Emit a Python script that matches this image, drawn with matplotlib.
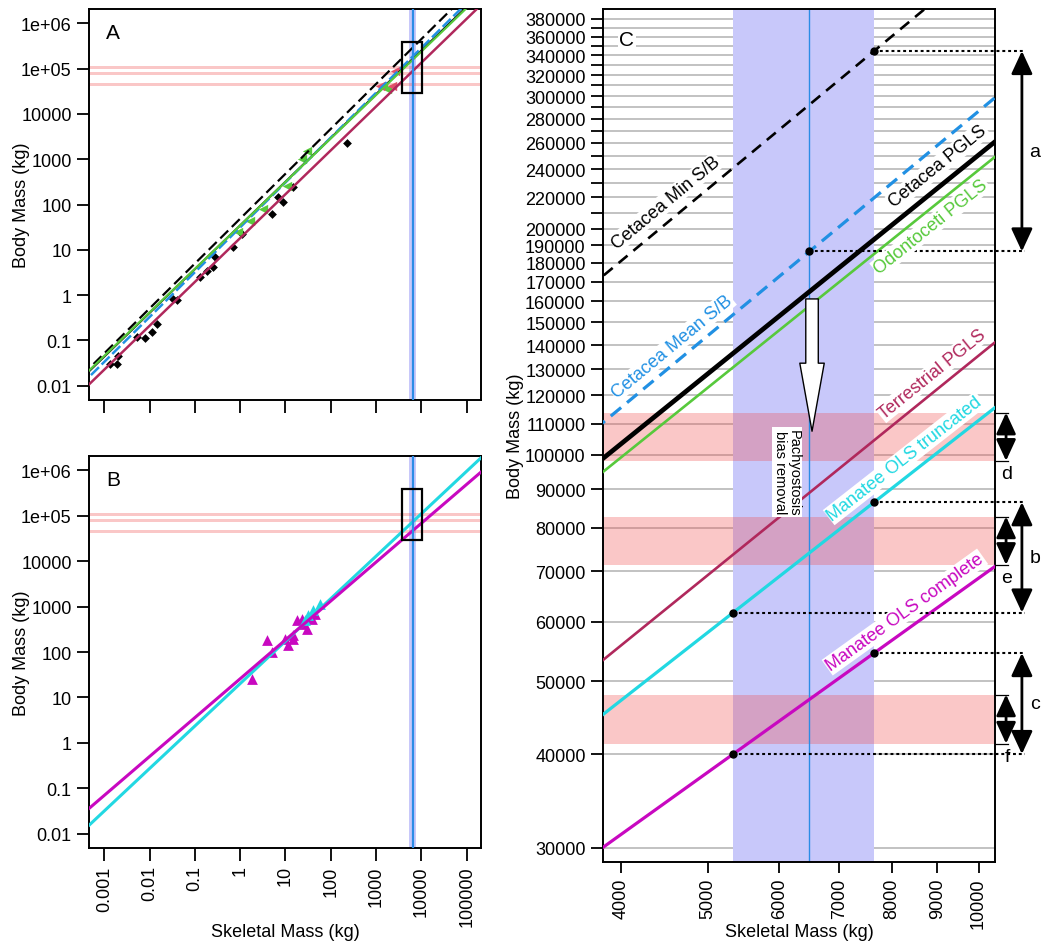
import numpy as np
import matplotlib
matplotlib.use("Agg")
import matplotlib.pyplot as plt
from matplotlib.patches import Rectangle, FancyArrowPatch

plt.rcParams['font.family'] = ['Liberation Sans', 'DejaVu Sans']

# regression fits: body = 10**log_intercept * skeletal**slope
fit_names = ["Cetacea Min S/B", "Cetacea Mean S/B", "Cetacea PGLS", "Odontoceti PGLS",
             "Terrestrial PGLS", "Manatee OLS truncated", "Manatee OLS complete"]
fit_slopes = [0.991, 0.990, 0.965, 0.960, 0.968, 0.935, 0.856]
fit_log_intercepts = [1.6885, 1.4971, 1.5389, 1.5389, 1.260, 1.3058, 1.412]

# skeletal mass estimate of the fossil and its range
skel_est = 6480
skel_lo = 5330
skel_hi = 7650

# body mass ranges (pink bands)
band_lo = [98200, 71400, 41300]
band_hi = [113800, 82800, 48000]
band_letters = ["d", "e", "f"]

# panel A points
terr_skel = [0.00134, 0.00194, 0.00204, 0.0052, 0.0079, 0.0111, 0.01435, 0.0334, 0.0396, 0.130,
             0.182, 0.278, 0.255, 0.705, 1.08, 4.95, 6.93, 8.93, 14.9, 224]
terr_body = [0.030, 0.030, 0.046, 0.117, 0.111, 0.151, 0.230, 0.82, 0.78, 2.47,
             3.46, 6.8, 4.1, 11.4, 22.3, 61.7, 144, 112, 240, 2280]
odont_skel = [0.91, 1.64, 3.24, 10.6, 22.8, 29.4, 1440, 1710]
odont_body = [24.3, 44, 79.6, 260, 1010, 1540, 40600, 35500]
myst_skel = [1220, 2210, 2610]
myst_body = [40600, 42000, 90000]

# panel B points
mana_skel = [1.79, 3.85, 4.95, 9.75, 11.5, 14.9, 14.9, 17.7, 22.8, 24.7, 29.4, 37.8, 44.8]
mana_body = [26, 181, 100, 197, 140, 233, 197, 500, 545, 422, 327, 545, 700]
trunc_skel = [26.9, 31.9, 41.1, 57.8]
trunc_body = [500, 643, 830, 1165]

log_ticks = [0.001, 0.01, 0.1, 1, 10, 100, 1000, 10000, 100000]
log_tick_labels = ["0.001", "0.01", "0.1", "1", "10", "100", "1000", "10000", "100000"]
body_ticks = [0.01, 0.1, 1, 10, 100, 1000, 10000, 1e5, 1e6]
body_tick_labels = ["0.01", "0.1", "1", "10", "100", "1000", "10000", "1e+05", "1e+06"]
c_xticks = [4000, 5000, 6000, 7000, 8000, 9000, 10000]
c_yticks = list(range(30000, 390000, 10000))
c_ylabels_shown = list(range(30000, 210000, 10000)) + list(range(220000, 390000, 20000))

colors = {
    "Cetacea Min S/B": "black",
    "Cetacea Mean S/B": "#2190E3",
    "Cetacea PGLS": "black",
    "Odontoceti PGLS": "#57C93C",
    "Terrestrial PGLS": "#B0285C",
    "Manatee OLS truncated": "#22D8E2",
    "Manatee OLS complete": "#C808C0",
}
pink = (0.94, 0.30, 0.30, 0.31)
lavender = "#C8C8FA"
vblue = "#2B8CE6"


def fit(i, x):
    return 10 ** fit_log_intercepts[i] * np.asarray(x, dtype=float) ** fit_slopes[i]


W, H = 1052, 945
fig = plt.figure(figsize=(W / 100, H / 100), dpi=100)


def px_axes(l, t, r, b):
    return fig.add_axes([l / W, 1 - b / H, (r - l) / W, (b - t) / H])


axA = px_axes(89, 10, 481, 401)
axB = px_axes(89, 457, 481, 849)
axC = px_axes(603, 10, 995, 863)

big_xlim = (4.6e-4, 2.07e5)
big_ylim = (4.85e-3, 2.07e6)
c_xlim = (3817, 10430)
c_ylim = (28740, 391800)

for ax in (axA, axB, axC):
    ax.set_xscale("log")
    ax.set_yscale("log")
    for s in ax.spines.values():
        s.set_linewidth(1.4)
    ax.tick_params(which="both", direction="out", labelsize=13, width=1.3)
    ax.minorticks_off()

xs = np.logspace(-4, 6, 60)

# ---------- panels A and B ----------
for ax, letter in ((axA, "A"), (axB, "B")):
    ax.set_xlim(*big_xlim)
    ax.set_ylim(*big_ylim)
    ax.axvspan(skel_lo, skel_hi, color=lavender, lw=0, zorder=1)
    ax.axvline(skel_est, color=vblue, lw=1.6, zorder=6)
    for lo, hi in zip(band_lo, band_hi):
        ax.axhspan(lo, hi, color=pink, lw=0, zorder=1.5)
    ax.add_patch(Rectangle((c_xlim[0], c_ylim[0]), c_xlim[1] - c_xlim[0], c_ylim[1] - c_ylim[0],
                           fill=False, ec="black", lw=1.6, zorder=7))
    ax.set_xticks(log_ticks)
    ax.set_yticks(body_ticks)
    ax.set_yticklabels(body_tick_labels)
    ax.tick_params(axis="both", length=9)
    ax.minorticks_off()
    ax.set_ylabel("Body Mass (kg)", fontsize=13, va="center")
    ax.yaxis.set_label_coords(-0.171, 0.5)
    ax.text(0.043, 0.94, letter, transform=ax.transAxes, fontsize=15, va="center", ha="left")

axA.set_xticklabels([])
axA.scatter(terr_skel, terr_body, marker="D", s=20, color="black", zorder=2, lw=0)
axA.scatter(odont_skel, odont_body, marker="<", s=45, color=colors["Odontoceti PGLS"], zorder=2, lw=0)
axA.scatter(myst_skel, myst_body, marker="<", s=45, color="#E2506A", zorder=2, lw=0)
axA.plot(xs, fit(4, xs), color=colors["Terrestrial PGLS"], lw=1.8, zorder=3)
axA.plot(xs, fit(0, xs), color="black", lw=1.6, ls=(0, (5, 2.3)), zorder=3)
axA.plot(xs, fit(2, xs), color="black", lw=1.5, zorder=3)
axA.plot(xs, fit(1, xs), color=colors["Cetacea Mean S/B"], lw=1.8, ls=(0, (4.5, 1.5)), zorder=3)
axA.plot(xs, fit(3, xs), color=colors["Odontoceti PGLS"], lw=1.6, zorder=3)

axB.scatter(mana_skel, mana_body, marker="^", s=60, color=colors["Manatee OLS complete"], zorder=2, lw=0)
axB.scatter(trunc_skel, trunc_body, marker="^", s=60, color=colors["Manatee OLS truncated"], zorder=2, lw=0)
axB.plot(xs, fit(5, xs), color=colors["Manatee OLS truncated"], lw=2.2, zorder=3)
axB.plot(xs, fit(6, xs), color=colors["Manatee OLS complete"], lw=2.2, zorder=3)
axB.set_xticklabels(log_tick_labels, rotation=90)
axB.set_xlabel("Skeletal Mass (kg)", fontsize=13)
axB.xaxis.set_label_coords(0.5, -0.214)
axB.xaxis.label.set_va("center")

# ---------- panel C ----------
axC.set_xlim(*c_xlim)
axC.set_ylim(*c_ylim)
axC.set_xticks(c_xticks)
axC.set_xticklabels([str(v) for v in c_xticks], rotation=90)
axC.set_yticks(c_yticks)
axC.set_yticklabels([str(v) if v in c_ylabels_shown else "" for v in c_yticks])
axC.minorticks_off()
axC.tick_params(axis="y", length=9)
axC.tick_params(axis="x", length=8)
axC.grid(axis="y", color="#BDBDBD", lw=1.3)
axC.set_axisbelow(True)
axC.axvspan(skel_lo, skel_hi, color=lavender, lw=0, zorder=1)
for lo, hi in zip(band_lo, band_hi):
    axC.axhspan(lo, hi, color=pink, lw=0, zorder=1.5)
axC.axvline(skel_est, color=vblue, lw=1.0, zorder=2)

xc = np.logspace(3.5, 4.1, 40)
c_styles = [dict(lw=1.9, ls=(0, (4.4, 2.9))),
            dict(lw=2.3, ls=(0, (4.2, 2.4))),
            dict(lw=3.4, ls="-"),
            dict(lw=1.9, ls="-"),
            dict(lw=1.9, ls="-"),
            dict(lw=2.3, ls="-"),
            dict(lw=2.3, ls="-")]
for i, name in enumerate(fit_names):
    axC.plot(xc, fit(i, xc), color=colors[name], zorder=3, **c_styles[i])

# line labels: x of the foot point on the line, perpendicular offset (points)
label_x = [4611, 4667, 9260, 8650, 9103, 8485, 8471]
label_off = [12.0, 10.7, 12.2, -10.0, 11.0, 11.4, 11.1]
fig.canvas.draw()
for i, name in enumerate(fit_names):
    x0 = label_x[i]
    p1 = axC.transData.transform((x0, fit(i, x0)))
    p2 = axC.transData.transform((x0 * 1.1, fit(i, x0 * 1.1)))
    ang = np.arctan2(p2[1] - p1[1], p2[0] - p1[0])
    d = label_off[i]
    axC.annotate(name, (x0, fit(i, x0)), xytext=(-np.sin(ang) * d, np.cos(ang) * d),
                 textcoords="offset points", rotation=np.degrees(ang), rotation_mode="anchor",
                 ha="center", va="center", fontsize=13, color=colors[name], zorder=5,
                 bbox=dict(fc="white", ec="none", pad=0.8))

# dots and dotted guides
x_guide_end = 11260
dot_pts = [(skel_hi, fit(0, skel_hi)), (skel_est, fit(1, skel_est)),
           (skel_hi, fit(5, skel_hi)), (skel_lo, fit(5, skel_lo)),
           (skel_hi, fit(6, skel_hi)), (skel_lo, fit(6, skel_lo))]
for x0, y0 in dot_pts:
    axC.plot([x0, x_guide_end], [y0, y0], color="black", lw=1.5, ls=(0, (1.4, 1.4)),
             clip_on=False, zorder=4)
    axC.plot(x0, y0, "o", color="black", ms=5, zorder=6, clip_on=False)

# big double arrows a, b, c
pairs = [(dot_pts[0][1], dot_pts[1][1], "a"), (dot_pts[2][1], dot_pts[3][1], "b"),
         (dot_pts[4][1], dot_pts[5][1], "c")]
for y1, y2, lab in pairs:
    axC.annotate("", xy=(11175, y1), xytext=(11175, y2),
                 arrowprops=dict(arrowstyle="<|-|>,head_length=14,head_width=6.5", mutation_scale=1,
                                 color="black", lw=2.0, shrinkA=0, shrinkB=0),
                 annotation_clip=False)
    axC.text(11555, np.sqrt(y1 * y2), lab, fontsize=14, ha="center", va="center", clip_on=False)

# small double arrows d, e, f on the pink bands
for lo, hi, lab in zip(band_lo, band_hi, band_letters):
    for yv in (lo, hi):
        axC.plot([c_xlim[1], 10783], [yv, yv], color="black", lw=0.9, clip_on=False)
    axC.annotate("", xy=(10730, hi), xytext=(10730, lo),
                 arrowprops=dict(arrowstyle="<|-|>,head_length=13,head_width=6", mutation_scale=1,
                                 color="black", lw=2.0, shrinkA=0, shrinkB=0),
                 annotation_clip=False)
    axC.annotate(lab, (10755, lo), xytext=(0, -3), textcoords="offset points",
                 fontsize=14, ha="center", va="top", annotation_clip=False)

# pachyostosis arrow
arrow = FancyArrowPatch((6524, 162600), (6524, 106600),
                        arrowstyle="simple,head_length=49,head_width=17.6,tail_width=9",
                        mutation_scale=1, fc="white", ec="black", lw=1.0, zorder=7)
axC.add_patch(arrow)
axC.text(6119, 94870, "Pachyostosis\nbias removal", rotation=-90, fontsize=10.5, ha="center",
         va="center", linespacing=1.0, zorder=8, bbox=dict(fc="white", ec="none", pad=1.0))

axC.text(0.041, 0.964, "C", transform=axC.transAxes, fontsize=15, ha="left", va="center",
         bbox=dict(fc="white", ec="none", pad=1.0), zorder=8)
axC.set_ylabel("Body Mass (kg)", fontsize=13, va="center")
axC.yaxis.set_label_coords(-0.224, 0.5)
axC.set_xlabel("Skeletal Mass (kg)", fontsize=13)
axC.xaxis.set_label_coords(0.5, -0.082)
axC.xaxis.label.set_va("center")

fig.savefig("out.png", dpi=100, facecolor="white")
